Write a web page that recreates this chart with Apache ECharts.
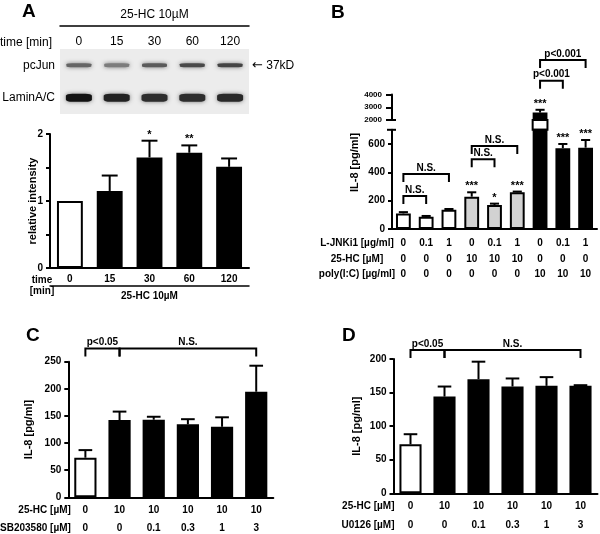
<!DOCTYPE html>
<html><head><meta charset="utf-8">
<script src="https://cdn.jsdelivr.net/npm/echarts@6/dist/echarts.min.js"></script>
<style>html,body{margin:0;padding:0;background:#fff}#c{width:600px;height:534px}</style>
</head><body><div id="c"></div>
<script>
// ---------------- DATA ----------------
// Panel A – western blot
const blotLanes = ['0', '15', '30', '60', '120'];
const blotRows = ['pcJun', 'LaminA/C'];
const blotMarkers = ['37kD', ''];
const pcJunBand = [0.55, 0.45, 0.6, 0.68, 0.7];
const laminBand = [0.92, 0.85, 0.8, 0.8, 0.82];
// Panel A – densitometry
const aTimes = ['0', '15', '30', '60', '120'];
const aMeans = [1.0, 1.15, 1.65, 1.72, 1.51];
const aSem = [0, 0.23, 0.25, 0.11, 0.125];
const aStars = ['', '', '*', '**', ''];
const aTicks = [0, 1, 2];
// Panel B
const bJnk = ['0', '0.1', '1', '0', '0.1', '1', '0', '0.1', '1'];
const bHc = ['0', '0', '0', '10', '10', '10', '0', '0', '0'];
const bPoly = ['0', '0', '0', '0', '0', '0', '10', '10', '10'];
const bMeans = [110, 87, 135, 228, 169, 259, 2580, 570, 574];
const bSem = [9, 5, 6, 31, 10, 5, 220, 30, 54];
const bStars = ['', '', '', '***', '*', '***', '***', '***', '***'];
const bLowerTicks = [0, 200, 400, 600];
const bUpperTicks = [2000, 3000, 4000];
const bBreak = [700, 2000, 4000]; // lower max, upper min, upper max
const bBrackets = [[0, 1, 233], [0, 2, 388], [3, 4, 492], [3, 5, 586], [6, 7, 5082], [6, 8, 6706]];
const bBracketText = ['N.S.', 'N.S.', 'N.S.', 'N.S.', 'p<0.001', 'p<0.001'];
// Panel C
const cHc = ['0', '10', '10', '10', '10', '10'];
const cSb = ['0', '0', '0.1', '0.3', '1', '3'];
const cMeans = [73, 142.5, 143, 134.5, 130, 194.6];
const cSem = [14, 15.5, 5.5, 9.5, 17.5, 48];
const cBrackets = [[0, 1, 274.5], [1, 5, 274.5]];
const cBracketText = ['p<0.05', 'N.S.'];
// Panel D
const dHc = ['0', '10', '10', '10', '10', '10'];
const dU0 = ['0', '0', '0.1', '0.3', '1', '3'];
const dMeans = [73, 144, 170, 159, 160, 160];
const dSem = [15, 15, 26, 12, 13, 1];
const dBrackets = [[0, 1, 213.4], [1, 5, 213.4]];
const dBracketText = ['p<0.05', 'N.S.'];

// ---------------- STYLE / LAYOUT ----------------
const F = '"Liberation Sans", Arial, Helvetica, sans-serif';
const BW = '65%';
const gA = {left: 50, top: 134, width: 199, height: 134};
const gBu = {left: 392, top: 94.5, width: 205, height: 25.5};
const gBl = {left: 392, top: 129.8, width: 205, height: 99.2};
const gC = {left: 68.3, top: 361.7, width: 205, height: 135.6};
const gD = {left: 393.5, top: 359, width: 204, height: 134.3};
const breakGap = gBl.top - (gBu.top + gBu.height);

const aFill = ['#fff', '#000', '#000', '#000', '#000'];
const bFill = ['#fff', '#fff', '#fff', '#d2d2d2', '#d2d2d2', '#d2d2d2', '#000', '#000', '#000'];
const cdFill = ['#fff', '#000', '#000', '#000', '#000', '#000'];

function errData(means, sem, keep) {
  const out = [];
  means.forEach((m, i) => { if (!keep || keep(m)) out.push([i, m, m + sem[i]]); });
  return out;
}
function errRender(stars) {
  return function (params, api) {
    const i = api.value(0), m = api.value(1), t = api.value(2);
    const p0 = api.coord([i, m]), p1 = api.coord([i, t]);
    const hw = api.size([1, 0])[0] * 0.2;
    const ch = [];
    if (t > m) {
      ch.push({type: 'line', shape: {x1: p0[0], y1: p0[1], x2: p1[0], y2: p1[1]}, style: {stroke: '#000', lineWidth: 2}});
      ch.push({type: 'line', shape: {x1: p1[0] - hw, y1: p1[1], x2: p1[0] + hw, y2: p1[1]}, style: {stroke: '#000', lineWidth: 2}});
    }
    const s = stars ? stars[i] : '';
    if (s) ch.push({type: 'text', style: {text: s, x: p1[0], y: p1[1] - 6, align: 'center', verticalAlign: 'middle', font: 'bold 11px ' + F, fill: '#000'}});
    return {type: 'group', children: ch};
  };
}
function bracketRender(texts, drop) {
  return function (params, api) {
    const y = api.value(2);
    const a = api.coord([api.value(0), y]);
    const b = api.coord([api.value(1), y]);
    return {type: 'group', children: [
      {type: 'polyline', shape: {points: [[a[0], a[1] + drop], [a[0], a[1]], [b[0], b[1]], [b[0], b[1] + drop]]}, style: {stroke: '#000', lineWidth: 2, fill: null}},
      {type: 'text', style: {text: texts[api.value(3)], x: (a[0] + b[0]) / 2, y: a[1] - 1, align: 'center', verticalAlign: 'bottom', font: 'bold 10px ' + F, fill: '#000'}}
    ]};
  };
}
function bracketData(list, keep) {
  const out = [];
  list.forEach((b, k) => { if (!keep || keep(b)) out.push([b[0], b[1], b[2], k]); });
  return out;
}
// axis-break marker: short line crossing the value axis at the break value
function breakMarkRender(params, api) {
  const p = api.coord([0, api.value(1)]);
  const x = p[0] - api.size([1, 0])[0] / 2;
  return {type: 'line', shape: {x1: x - 5, y1: p[1], x2: x + 4, y2: p[1]}, style: {stroke: '#000', lineWidth: 2}};
}

const lbl = {color: '#000', fontFamily: F, fontWeight: 'bold', fontSize: 10};
const axLine = {show: true, onZero: false, lineStyle: {color: '#000', width: 2}};
const plain = v => String(v);
function catX(o) {
  return Object.assign({
    type: 'category', axisTick: {show: false}, axisLine: axLine, splitLine: {show: false},
    nameMoveOverlap: false,
    axisLabel: Object.assign({interval: 0}, lbl),
    nameTextStyle: Object.assign({}, lbl)
  }, o);
}
function rowX(grid, data, name, offset, margin, gap, align, showLine) {
  return catX({
    gridIndex: grid, position: 'bottom', offset: offset, data: data,
    axisLine: showLine ? axLine : {show: false, onZero: false},
    axisLabel: Object.assign({interval: 0, margin: margin}, lbl),
    name: name, nameLocation: 'start', nameGap: gap,
    nameTextStyle: Object.assign({align: align, verticalAlign: 'top', padding: [margin, 0, 0, 0]}, lbl)
  });
}
function valY(o) {
  return Object.assign({
    type: 'value', axisLine: {show: true, onZero: false, lineStyle: {color: '#000', width: 2}},
    axisTick: {show: true, length: 4, lineStyle: {color: '#000', width: 2}},
    splitLine: {show: false}, nameMoveOverlap: false,
    axisLabel: Object.assign({margin: 7, formatter: plain}, lbl),
    nameLocation: 'middle', nameTextStyle: Object.assign({}, lbl, {fontSize: 11})
  }, o);
}

const blotData = [];
pcJunBand.forEach((v, i) => blotData.push([i, 0, v]));
laminBand.forEach((v, i) => blotData.push([i, 1, v]));

const gridBase = {containLabel: false, outerBoundsMode: 'none'};
const option = {
  animation: false,
  textStyle: {fontFamily: F},
  title: [
    {text: 'A', left: 22, top: 2},
    {text: 'B', left: 331, top: 3},
    {text: 'C', left: 26, top: 326},
    {text: 'D', left: 342, top: 326}
  ].map(t => Object.assign(t, {padding: 0, textStyle: {fontFamily: F, fontSize: 19, fontWeight: 'bold', color: '#000'}})),
  grid: [
    Object.assign({left: 60, top: 49, width: 189, height: 65, show: true, backgroundColor: '#ececec', borderWidth: 0}, gridBase),
    Object.assign({}, gA, gridBase),
    Object.assign({}, gBu, gridBase),
    Object.assign({}, gBl, gridBase),
    Object.assign({}, gC, gridBase),
    Object.assign({}, gD, gridBase)
  ],
  xAxis: [
    // 0 blot lanes
    catX({gridIndex: 0, position: 'top', data: blotLanes, axisLine: {show: false, onZero: false},
      axisLabel: {interval: 0, margin: 1, color: '#000', fontFamily: F, fontSize: 12},
      name: 'time [min]', nameLocation: 'start', nameGap: 8,
      nameTextStyle: {align: 'right', verticalAlign: 'bottom', color: '#000', fontFamily: F, fontSize: 12}}),
    // 1 blot header line
    catX({gridIndex: 0, position: 'top', offset: 23, data: blotLanes,
      axisLine: {show: true, onZero: false, lineStyle: {color: '#000', width: 1.5}}, axisLabel: {show: false},
      name: '25-HC 10µM', nameLocation: 'middle', nameGap: 5,
      nameTextStyle: {color: '#000', fontFamily: F, fontSize: 12}}),
    // 2 A x
    catX({gridIndex: 1, position: 'bottom', data: aTimes,
      axisLabel: Object.assign({interval: 0, margin: 6}, lbl),
      name: 'time\n[min]', nameLocation: 'start', nameGap: 8,
      nameTextStyle: Object.assign({align: 'center', verticalAlign: 'top', padding: [6, 0, 0, 0], lineHeight: 11.5}, lbl)}),
    // 3 A header below
    catX({gridIndex: 1, position: 'bottom', offset: 18, data: aTimes,
      axisLine: {show: true, onZero: false, lineStyle: {color: '#000', width: 1.5}}, axisLabel: {show: false},
      name: '25-HC 10µM', nameLocation: 'middle', nameGap: 5}),
    // 4 B upper (no visible line / labels)
    catX({gridIndex: 2, position: 'bottom', data: bJnk, axisLine: {show: false, onZero: false}, axisLabel: {show: false}}),
    // 5-7 B rows
    rowX(3, bJnk, 'L-JNKi1 [µg/ml]', 0, 9, 35, 'center', true),
    rowX(3, bHc, '25-HC [µM]', 16.7, 9, 35, 'center', false),
    rowX(3, bPoly, 'poly(I:C) [µg/ml]', 31.7, 9, 35, 'center', false),
    // 8-9 C rows
    rowX(4, cHc, '25-HC [µM]', 0, 7.7, -2.5, 'right', true),
    rowX(4, cSb, 'SB203580 [µM]', 18.3, 7.7, -2.5, 'right', false),
    // 10-11 D rows
    rowX(5, dHc, '25-HC [µM]', 0, 7.7, -1, 'right', true),
    rowX(5, dU0, 'U0126 [µM]', 19, 7.7, -1, 'right', false)
  ],
  yAxis: [
    // 0 blot rows left
    {gridIndex: 0, type: 'category', inverse: true, data: blotRows, axisLine: {show: false}, axisTick: {show: false},
      axisLabel: {margin: 5, color: '#000', fontFamily: F, fontSize: 12}},
    // 1 blot marker right
    {gridIndex: 0, type: 'category', position: 'right', inverse: true, data: blotRows, axisLine: {show: false}, axisTick: {show: false},
      axisLabel: {margin: 3, color: '#000', fontFamily: F, fontSize: 12,
        formatter: (v, i) => blotMarkers[i] ? '{a|←} ' + blotMarkers[i] : '',
        rich: {a: {fontFamily: 'DejaVu Sans', fontSize: 13, color: '#000'}}}},
    // 2 A
    valY({gridIndex: 1, min: 0, max: 2, interval: 0.5,
      axisLabel: Object.assign({margin: 7, customValues: aTicks, formatter: plain}, lbl),
      name: 'relative intensity', nameGap: 12}),
    // 3 B upper
    valY({gridIndex: 2, position: 'left', min: bBreak[1], max: bBreak[2], interval: 1000,
      axisTick: {show: true, length: 6, lineStyle: {color: '#000', width: 2}},
      axisLabel: Object.assign({margin: 10, formatter: plain}, lbl, {fontSize: 8})}),
    // 4 B lower
    valY({gridIndex: 3, min: 0, max: bBreak[0],
      axisTick: {show: true, length: 4, lineStyle: {color: '#000', width: 2}, customValues: bLowerTicks},
      axisLabel: Object.assign({margin: 7, customValues: bLowerTicks, formatter: plain}, lbl),
      name: 'IL-8 [pg/ml]', nameGap: 32,
      nameTextStyle: Object.assign({}, lbl, {fontSize: 11, padding: [0, 0, 0, 34]})}),
    // 5 C
    valY({gridIndex: 4, min: 0, max: 250, interval: 50, name: 'IL-8 [pg/ml]', nameGap: 34}),
    // 6 D
    valY({gridIndex: 5, min: 0, max: 200, interval: 50, name: 'IL-8 [pg/ml]', nameGap: 31})
  ],
  series: [
    // blot bands
    {type: 'scatter', xAxisIndex: 0, yAxisIndex: 0, silent: true, data: blotData, symbol: 'roundRect',
      symbolSize: (d) => d[1] === 0 ? [25, 4] : [26, 8],
      itemStyle: {color: (p) => { const g = Math.round(225 * (1 - p.data[2])); return 'rgb(' + g + ',' + g + ',' + g + ')'; },
        shadowBlur: 4, shadowColor: 'rgba(70,70,70,0.7)', opacity: 1}},
    // A bars
    {type: 'bar', xAxisIndex: 2, yAxisIndex: 2, data: aMeans, barWidth: BW, silent: true,
      itemStyle: {color: (p) => aFill[p.dataIndex], borderColor: '#000', borderWidth: 2}},
    {type: 'custom', xAxisIndex: 2, yAxisIndex: 2, silent: true, encode: {x: 0, y: [1, 2]},
      data: errData(aMeans, aSem), renderItem: errRender(aStars)},
    // B upper
    {type: 'bar', xAxisIndex: 4, yAxisIndex: 3, barWidth: BW, silent: true, clip: true,
      data: bMeans.map(m => m > bBreak[0] ? m : '-'),
      itemStyle: {color: (p) => bFill[p.dataIndex], borderColor: '#000', borderWidth: 2}},
    {type: 'custom', xAxisIndex: 4, yAxisIndex: 3, silent: true, encode: {x: 0, y: [1, 2]},
      data: errData(bMeans, bSem, m => m > bBreak[0]), renderItem: errRender(bStars)},
    {type: 'custom', xAxisIndex: 4, yAxisIndex: 3, silent: true, encode: {x: [0, 1], y: 2},
      data: bracketData(bBrackets, b => b[2] > bBreak[0]), renderItem: bracketRender(bBracketText, 8)},
    {type: 'custom', xAxisIndex: 4, yAxisIndex: 3, silent: true, encode: {x: 0, y: 1},
      data: [[0, bBreak[1]]], renderItem: breakMarkRender},
    // B lower
    {type: 'bar', xAxisIndex: 5, yAxisIndex: 4, barWidth: BW, silent: true, clip: true, data: bMeans,
      itemStyle: {color: (p) => bFill[p.dataIndex], borderColor: '#000', borderWidth: 2}},
    {type: 'custom', xAxisIndex: 5, yAxisIndex: 4, silent: true, encode: {x: 0, y: 1},
      data: bMeans.map((m, i) => [i, m]).filter(d => d[1] > bBreak[0]).map(d => [d[0], bBreak[0]]),
      renderItem: function (params, api) {
        const p = api.coord([api.value(0), api.value(1)]);
        const w = api.size([1, 0])[0] * 0.65;
        return {type: 'rect', shape: {x: p[0] - w / 2, y: p[1] - breakGap, width: w, height: breakGap},
          style: {fill: '#fff', stroke: '#000', lineWidth: 2}};
      }},
    {type: 'custom', xAxisIndex: 5, yAxisIndex: 4, silent: true, encode: {x: 0, y: 1},
      data: [[0, bBreak[0]]], renderItem: breakMarkRender},
    {type: 'custom', xAxisIndex: 5, yAxisIndex: 4, silent: true, encode: {x: 0, y: [1, 2]},
      data: errData(bMeans, bSem, m => m <= bBreak[0]), renderItem: errRender(bStars)},
    {type: 'custom', xAxisIndex: 5, yAxisIndex: 4, silent: true, encode: {x: [0, 1], y: 2},
      data: bracketData(bBrackets, b => b[2] <= bBreak[0]), renderItem: bracketRender(bBracketText, 8)},
    // C
    {type: 'bar', xAxisIndex: 8, yAxisIndex: 5, barWidth: BW, silent: true, data: cMeans,
      itemStyle: {color: (p) => cdFill[p.dataIndex], borderColor: '#000', borderWidth: 2}},
    {type: 'custom', xAxisIndex: 8, yAxisIndex: 5, silent: true, encode: {x: 0, y: [1, 2]},
      data: errData(cMeans, cSem), renderItem: errRender(null)},
    {type: 'custom', xAxisIndex: 8, yAxisIndex: 5, silent: true, encode: {x: [0, 1], y: 2},
      data: bracketData(cBrackets), renderItem: bracketRender(cBracketText, 8)},
    // D
    {type: 'bar', xAxisIndex: 10, yAxisIndex: 6, barWidth: BW, silent: true, data: dMeans,
      itemStyle: {color: (p) => cdFill[p.dataIndex], borderColor: '#000', borderWidth: 2}},
    {type: 'custom', xAxisIndex: 10, yAxisIndex: 6, silent: true, encode: {x: 0, y: [1, 2]},
      data: errData(dMeans, dSem), renderItem: errRender(null)},
    {type: 'custom', xAxisIndex: 10, yAxisIndex: 6, silent: true, encode: {x: [0, 1], y: 2},
      data: bracketData(dBrackets), renderItem: bracketRender(dBracketText, 8)}
  ]
};
const chart = echarts.init(document.getElementById('c'), null, {renderer: 'canvas'});
chart.setOption(option);
</script></body></html>
